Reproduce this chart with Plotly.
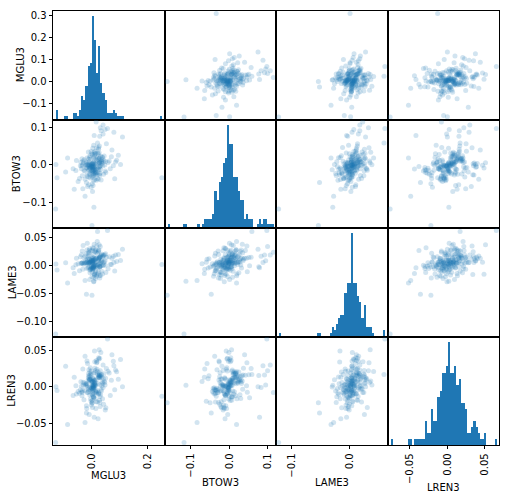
import numpy as np
import plotly.graph_objects as go
from plotly.subplots import make_subplots

TICKERS = ["MGLU3", "BTOW3", "LAME3", "LREN3"]

MGLU3 = [
    -0.131, -0.130, -0.126, 0.000, 0.252, 0.056, 0.020, 0.015, 0.007, -0.025,
    -0.020, 0.110, 0.072, -0.088, -0.095, -0.064, 0.040, 0.030, -0.068, 0.008,
    0.027, -0.022, 0.052, 0.020, 0.035, 0.009, 0.028, -0.013, 0.058, 0.023, 0.037, 0.010,
    0.028, -0.009, 0.062, 0.023, 0.039, 0.011, 0.029, -0.004, 0.070, 0.024, 0.040, 0.012,
    0.029, -0.001, 0.077, 0.024, 0.041, 0.013, 0.031, 0.001, 0.079, 0.025, 0.043, 0.014,
    0.032, 0.003, 0.085, 0.025, 0.044, 0.016, 0.033, 0.005, 0.089, 0.026, 0.046, 0.017,
    0.034, 0.006, 0.095, 0.026, 0.047, 0.018, 0.035, 0.008, 0.103, 0.027, 0.049, 0.019,
    -0.008, -0.058, 0.008, -0.016, 0.000, -0.031, -0.007, -0.056, 0.009, -0.015, 0.000, -0.029,
    -0.007, -0.050, 0.011, -0.014, 0.001, -0.028, -0.006, -0.042, 0.013, -0.013, 0.002, -0.025,
    -0.005, -0.040, 0.015, -0.012, 0.002, -0.023, -0.004, -0.038, 0.021, -0.011, 0.003, -0.021,
    -0.004, -0.036, 0.025, -0.010, 0.004, -0.020, -0.003, -0.035, 0.029, -0.010, 0.005, -0.018,
    -0.002, -0.034, 0.036, -0.009, 0.006, -0.018, -0.001, -0.032, 0.048, -0.009, 0.007, -0.017,
    0.006, -0.045, 0.027, 0.002, 0.013, -0.008, 0.006, -0.037, 0.028, 0.003, 0.014, -0.006,
    0.007, -0.033, 0.0295, 0.003, 0.016, -0.005, 0.008, -0.026, 0.031, 0.0035, 0.017, -0.003,
    0.009, -0.019, 0.033, 0.004, 0.018, -0.002, 0.010, -0.017, 0.038, 0.004, 0.019, 0.000,
    0.010, -0.015, 0.042, 0.004, 0.022, 0.0005, 0.011, -0.012, 0.050, 0.005, 0.023, 0.001,
    0.012, -0.011, 0.066, 0.005, 0.024, 0.001, 0.012, -0.010, 0.082, 0.0055, 0.026, 0.002,
]

BTOW3 = [
    -0.118, 0.001, -0.034, -0.162, -0.034, 0.098, 0.059, 0.115, -0.113, -0.084,
    -0.047, 0.075, 0.040, 0.019, -0.019, -0.065, 0.107, 0.100, -0.010, 0.079,
    0.0195, 0.002, 0.057, -0.036, 0.010, 0.027, -0.005, 0.035, 0.0068, 0.015,
    0.0215, 0.003, 0.077, -0.022, 0.011, 0.029, -0.003, 0.037, 0.007, 0.016,
    0.022, 0.004, 0.083, -0.016, 0.0115, 0.030, -0.002, 0.042, 0.008, 0.0165,
    0.0235, 0.0045, 0.088, -0.013, 0.0125, 0.031, -0.001, 0.045, 0.008, 0.0175,
    0.024, 0.005, 0.092, -0.011, 0.013, 0.033, 0.000, 0.046, 0.009, 0.018,
    0.026, 0.006, 0.095, -0.008, 0.0145, 0.034, 0.001, 0.051, 0.0095, 0.019,
    0.001, -0.015, 0.023, -0.058, -0.004, 0.005, -0.025, 0.012, -0.008, -0.002,
    0.002, -0.014, 0.025, -0.044, -0.004, 0.006, -0.023, 0.014, -0.0065, -0.0018,
    0.0025, -0.012, 0.028, -0.038, -0.0035, 0.007, -0.021, 0.0155, -0.006, -0.0015,
    0.003, -0.010, 0.032, -0.032, -0.003, 0.0075, -0.019, 0.017, -0.006, -0.001,
    0.0035, -0.009, 0.036, -0.029, -0.0025, 0.009, -0.017, 0.0185, -0.005, 0.000,
    0.0048, -0.009, 0.053, -0.027, -0.002, 0.0105, -0.016, 0.021, -0.0045, 0.0005,
    -0.013, -0.036, 0.0065, -0.071, -0.023, -0.009, -0.042, -0.003, -0.028, -0.017,
    -0.013, -0.035, 0.0085, -0.064, -0.022, -0.008, -0.041, -0.0015, -0.027, -0.016,
    -0.012, -0.033, 0.0135, -0.060, -0.021, -0.007, -0.040, -0.0005, -0.026, -0.015,
    -0.011, -0.031, 0.020, -0.055, -0.020, -0.006, -0.039, 0.0015, -0.025, -0.015,
    -0.011, -0.030, 0.030, -0.053, -0.020, -0.005, -0.038, 0.0025, -0.024, -0.014,
    -0.010, -0.028, 0.047, -0.050, -0.0185, -0.004, -0.037, 0.0055, -0.024, -0.014,
]

LAME3 = [
    -0.123, 0.002, -0.009, -0.054, 0.001, 0.0615, 0.060, 0.023, -0.029, -0.0275,
    -0.052, 0.028, 0.012, -0.032, 0.004, -0.015, 0.018, 0.033, -0.005, -0.005,
    -0.019, 0.0085, 0.014, 0.021, -0.011, 0.009, 0.014, 0.022, -0.0065, 0.0095, 0.0145, 0.0235,
    -0.003, 0.0102, 0.015, 0.024, -0.001, 0.0105, 0.015, 0.025, 0.001, 0.011, 0.0155, 0.0255,
    0.003, 0.011, 0.0155, 0.026, 0.004, 0.0115, 0.016, 0.0265, 0.0045, 0.0115, 0.017, 0.027,
    0.005, 0.012, 0.018, 0.0275, 0.006, 0.012, 0.018, 0.030, 0.0065, 0.0125, 0.0185, 0.034,
    0.007, 0.0125, 0.019, 0.036, 0.0075, 0.013, 0.0195, 0.037, 0.008, 0.0135, 0.020, 0.042,
    -0.026, 0.0005, 0.005, 0.0105, -0.021, 0.0015, 0.005, 0.012, -0.0165, 0.002, 0.005, 0.013,
    -0.014, 0.0025, 0.0055, 0.014, -0.0125, 0.003, 0.0055, 0.015, -0.0095, 0.003, 0.0055, 0.016,
    -0.008, 0.003, 0.006, 0.0175, -0.007, 0.0035, 0.0065, 0.0185, -0.0055, 0.0035, 0.007, 0.020,
    -0.0045, 0.0035, 0.007, 0.0215, -0.004, 0.004, 0.0075, 0.025, -0.0035, 0.004, 0.008, 0.027,
    -0.002, 0.004, 0.008, 0.029, -0.0015, 0.0045, 0.0085, 0.035, -0.0005, 0.0045, 0.0095, 0.039,
    -0.030, -0.010, -0.003, 0.0025, -0.024, -0.009, -0.0025, 0.003, -0.023, -0.008, -0.0025, 0.0035,
    -0.022, -0.0075, -0.002, 0.004, -0.020, -0.007, -0.002, 0.0045, -0.0185, -0.0065, -0.0015, 0.005,
    -0.018, -0.006, -0.0012, 0.0055, -0.017, -0.006, -0.001, 0.006, -0.016, -0.0055, -0.0005, 0.0075,
    -0.0155, -0.005, 0.000, 0.009, -0.015, -0.0045, 0.000, 0.011, -0.0135, -0.004, 0.0005, 0.0145,
    -0.013, -0.004, 0.001, 0.019, -0.012, -0.0035, 0.0015, 0.026, -0.0105, -0.003, 0.002, 0.031,
]

LREN3 = [
    -0.0765, 0.000, -0.005, -0.022, -0.013, 0.0655, 0.017, -0.008, 0.002, -0.049,
    -0.036, 0.000, 0.044, -0.052, 0.028, 0.013, 0.030, 0.022, -0.012, -0.042,
    0.0135, 0.004, 0.025, -0.021, 0.017, 0.0085, 0.039, -0.0035, 0.0213, 0.012,
    0.0065, 0.0345, 0.0155, 0.0107, 0.019,
    0.0142, 0.0047, 0.0255, -0.0135, 0.0175, 0.009, 0.040, -0.001, 0.0224, 0.0122,
    0.007, 0.035, 0.0158, 0.0112, 0.0197,
    0.0145, 0.0054, 0.029, -0.0095, 0.018, 0.0097, 0.047, 0.0015, 0.023, 0.0128,
    0.0075, 0.036, 0.016, 0.0114, 0.0205,
    0.015, 0.006, 0.033, -0.006, 0.0185, 0.0102, 0.051, 0.0025, 0.024, 0.013,
    0.008, 0.0375, 0.0166, 0.0117, 0.021,
    0.0095, 0.0012, 0.0052, 0.032, -0.0025, 0.002, 0.0138, -0.010, 0.049, -0.0008,
    0.0078, -0.018, 0.0202, -0.0065, 0.0037,
    0.009, 0.001, 0.005, 0.026, -0.004, 0.002, 0.0125, -0.011, 0.042, -0.0012,
    0.007, -0.0205, 0.0182, -0.007, 0.0035,
    0.0088, 0.0007, 0.0045, 0.0233, -0.0045, 0.0018, 0.0105, -0.0125, 0.038, -0.0018,
    0.0067, -0.026, 0.0163, -0.008, 0.0028,
    0.0082, 0.0004, 0.004, 0.0217, -0.005, 0.0014, 0.010, -0.015, 0.0355, -0.002,
    0.0062, -0.032, 0.015, -0.009, 0.0024,
    -0.0005, -0.009, -0.0185, 0.0072, -0.0058, -0.0115, -0.0022,
    -0.007, -0.0215, 0.0032, -0.030, -0.004, -0.0138, 0.0245, -0.027, 0.0005, -0.0085,
    -0.017, 0.0093, -0.0052, -0.0105, -0.002,
    -0.0068, -0.020, 0.0042, -0.030, -0.0038, -0.013, 0.034, -0.025, 0.001, -0.008,
    -0.0165, 0.011, -0.005, -0.010, -0.0015,
    -0.0078, -0.024, 0.0017, -0.044, -0.0048, -0.016, 0.0152, -0.029, -0.001, -0.0098,
    -0.019, 0.0057, -0.0062, -0.012, -0.003,
    -0.0075, -0.022, 0.0022, -0.038, -0.0042, -0.0145, 0.0193, -0.0285,
]

# tick labelling of each variable's axis
X_DTICK = [0.2, 0.1, 0.1, 0.05]
X_FMT = [".1f", ".1f", ".1f", ".2f"]
Y_DTICK = [None, 0.1, 0.05, 0.05]
Y_FMT = [None, ".1f", ".2f", ".2f"]
DIAG0_LABELS = [-0.1, 0.0, 0.1, 0.2, 0.3]
DIAG0_LABEL_RANGE = (-0.173, 0.3195)

# axis-title placement (pixel offsets from the plot edge), as matplotlib sets them
Y_TITLE_SHIFT = [-33, -36.5, -41, -41]
X_TITLE_SHIFT = [-30, -37, -37, -42]

BLUE = "#1f77b4"
FONT = "DejaVu Sans"

n_obs = min(len(MGLU3), len(BTOW3), len(LAME3), len(LREN3))
series = [np.asarray(s[:n_obs], dtype=float) for s in (MGLU3, BTOW3, LAME3, LREN3)]
nv = len(series)

bounds = []
for s in series:
    lo, hi = s.min(), s.max()
    ext = (hi - lo) * 0.05 / 2.0
    bounds.append([lo - ext, hi + ext])

fig = make_subplots(rows=nv, cols=nv, horizontal_spacing=0, vertical_spacing=0)

axis_common = dict(
    showline=True, mirror=True, linecolor="black", linewidth=0.8,
    showgrid=False, zeroline=False, ticks="", showticklabels=False,
    automargin=False,
    tickfont=dict(family=FONT, size=10, color="black"),
)
tick_on = dict(ticks="outside", ticklen=3.5, tickwidth=0.8, tickcolor="black",
               showticklabels=True)

for i in range(nv):
    for j in range(nv):
        r, c = i + 1, j + 1
        if i == j:
            counts, edges = np.histogram(series[i], bins=50)
            centers = (edges[:-1] + edges[1:]) / 2.0
            fig.add_trace(
                go.Bar(x=centers, y=counts, width=np.diff(edges),
                       marker=dict(color=BLUE, line=dict(width=0)),
                       showlegend=False, hoverinfo="skip"),
                row=r, col=c)
            ytop = counts.max() * 1.05
            fig.update_yaxes(range=[0, ytop], row=r, col=c, **axis_common)
            if i == 0:
                lo, hi = DIAG0_LABEL_RANGE
                fig.update_yaxes(
                    tickvals=[(v - lo) / (hi - lo) * ytop for v in DIAG0_LABELS],
                    ticktext=[f"{v:.1f}".replace("-", "\u2212") for v in DIAG0_LABELS],
                    row=r, col=c, **tick_on)
        else:
            fig.add_trace(
                go.Scatter(x=series[j], y=series[i], mode="markers",
                           marker=dict(color=BLUE, size=5, opacity=0.2,
                                       line=dict(width=0)),
                           showlegend=False, hoverinfo="skip"),
                row=r, col=c)
            fig.update_yaxes(range=bounds[i], row=r, col=c, **axis_common)
            if j == 0:
                fig.update_yaxes(tick0=0, dtick=Y_DTICK[i], tickformat=Y_FMT[i],
                                 row=r, col=c, **tick_on)
        fig.update_xaxes(range=bounds[j], row=r, col=c, **axis_common)
        if i == nv - 1:
            fig.update_xaxes(tick0=0, dtick=X_DTICK[j], tickformat=X_FMT[j],
                             tickangle=-90, row=r, col=c, **tick_on)


def axis_name(letter, idx):
    return f"{letter}{'' if idx == 1 else idx} domain"


annotations = []
for k in range(nv):
    left_idx = k * nv + 1
    annotations.append(dict(
        text=TICKERS[k], showarrow=False, textangle=-90,
        xref=axis_name("x", left_idx), x=0, xanchor="center", xshift=Y_TITLE_SHIFT[k],
        yref=axis_name("y", left_idx), y=0.5, yanchor="middle",
        font=dict(family=FONT, size=10, color="black")))
    bottom_idx = (nv - 1) * nv + k + 1
    annotations.append(dict(
        text=TICKERS[k], showarrow=False,
        xref=axis_name("x", bottom_idx), x=0.5, xanchor="center",
        yref=axis_name("y", bottom_idx), y=0, yanchor="middle", yshift=X_TITLE_SHIFT[k],
        font=dict(family=FONT, size=10, color="black")))

fig.update_layout(
    width=509, height=498,
    margin=dict(l=53, r=10, t=11, b=53),
    paper_bgcolor="white", plot_bgcolor="white",
    bargap=0, showlegend=False,
    font=dict(family=FONT, size=10, color="black"),
    annotations=annotations,
)

fig.write_html(
    "out.html",
    config={"displayModeBar": False},
    post_script="document.body.style.margin='0px';document.body.style.overflow='hidden';",
)
